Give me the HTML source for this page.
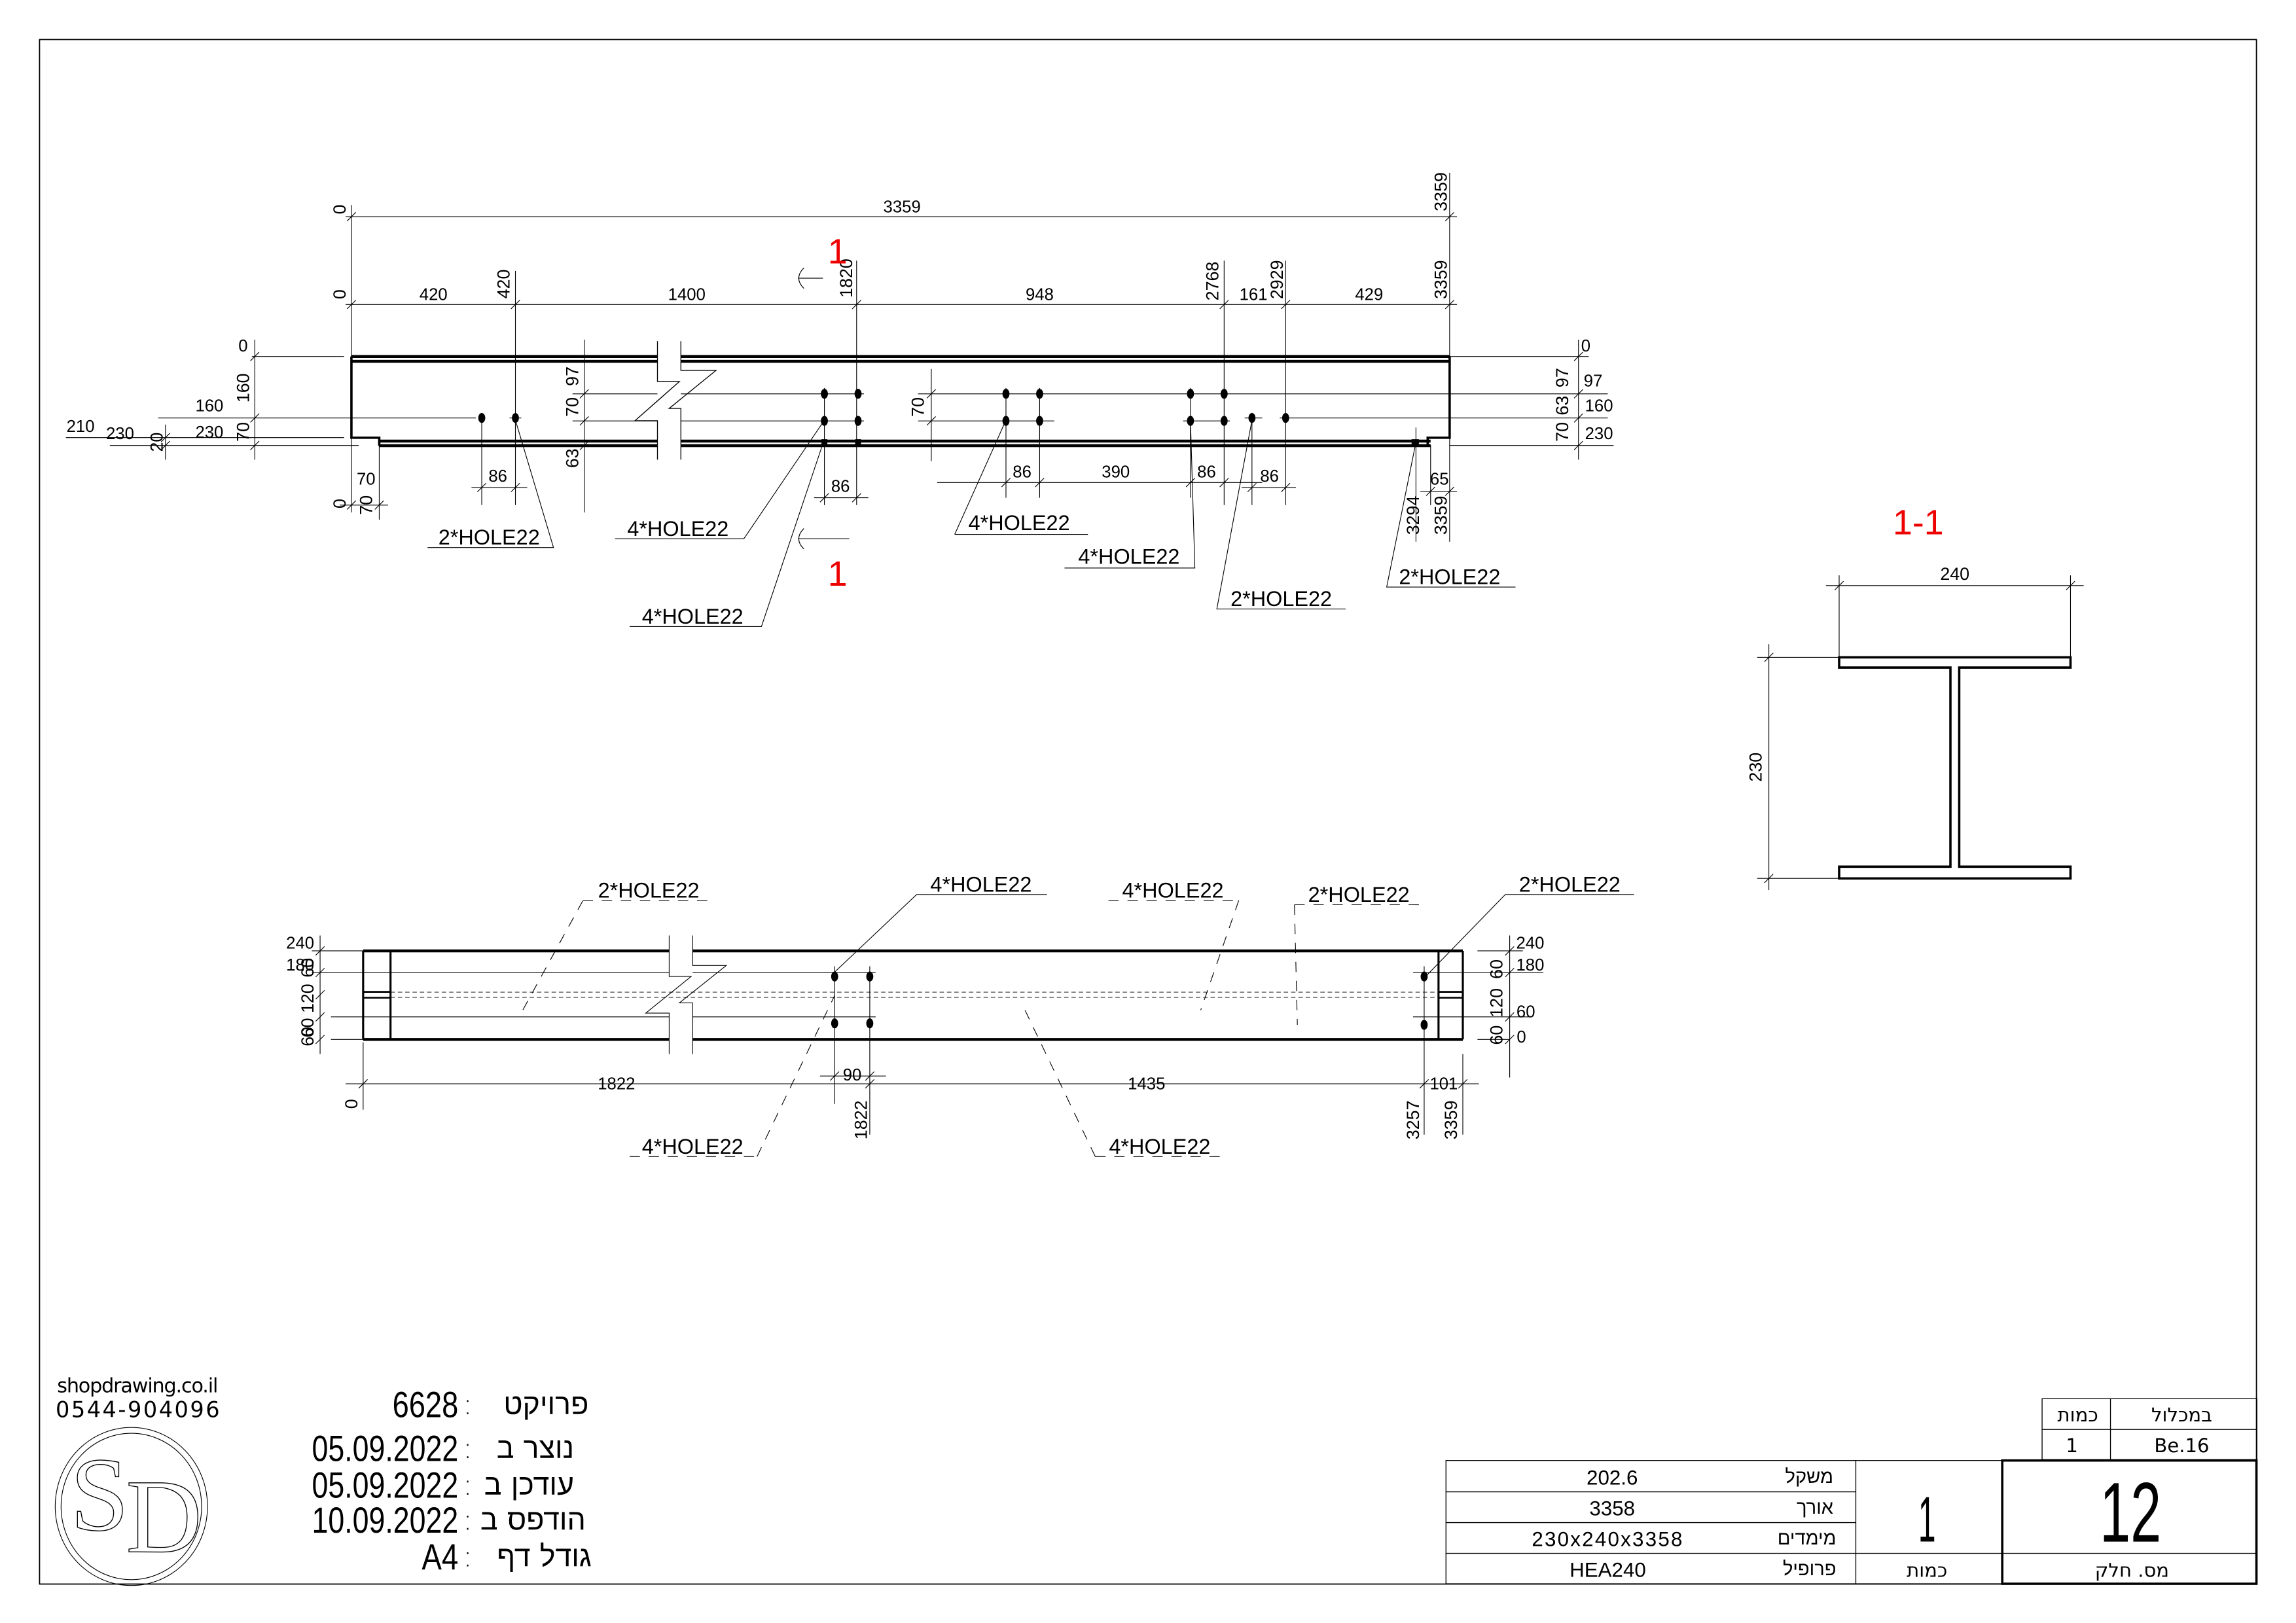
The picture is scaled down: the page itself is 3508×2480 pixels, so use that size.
<!DOCTYPE html>
<html><head><meta charset="utf-8"><style>html,body{margin:0;padding:0;background:#fff}svg{display:block}</style></head>
<body>
<svg xmlns="http://www.w3.org/2000/svg" width="3508" height="2480" viewBox="0 0 1568 1108.6" preserveAspectRatio="none">
<defs><path id="t" d="M-3,3 L3,-3" stroke="#000" stroke-width="0.5"/></defs>
<rect x="0" y="0" width="1568" height="1108.6" fill="#fff"/>
<rect x="27" y="27" width="1514" height="1055" fill="none" stroke="#000" stroke-width="0.8"/>

<g font-family="Liberation Sans Narrow, Liberation Sans, sans-serif" font-size="12" fill="#000">
<!-- ===== TOP VIEW ===== -->
<g stroke="#000" stroke-width="0.5" fill="none">
<line x1="236" y1="148" x2="995" y2="148"/>
<line x1="236" y1="208" x2="995" y2="208"/>
<line x1="240" y1="140" x2="240" y2="246"/>
<line x1="990" y1="118" x2="990" y2="370"/>
<line x1="352" y1="185" x2="352" y2="345"/>
<line x1="585" y1="178" x2="585" y2="345"/>
<line x1="836" y1="178" x2="836" y2="345"/>
<line x1="878" y1="178" x2="878" y2="345"/>
<line x1="329" y1="282" x2="329" y2="345"/>
<line x1="563" y1="265" x2="563" y2="345"/>
<line x1="687" y1="265" x2="687" y2="340"/>
<line x1="710" y1="265" x2="710" y2="340"/>
<line x1="813" y1="265" x2="813" y2="340"/>
<line x1="855" y1="282" x2="855" y2="345"/>
<line x1="967" y1="292" x2="967" y2="370"/>
<line x1="977" y1="304" x2="977" y2="345"/>
<line x1="259" y1="304" x2="259" y2="355"/>
<line x1="240" y1="299" x2="240" y2="350"/>
<line x1="391" y1="269" x2="449" y2="269"/><line x1="465" y1="269" x2="590" y2="269"/>
<line x1="627" y1="269" x2="1098" y2="269"/>
<line x1="391" y1="287.5" x2="449" y2="287.5"/><line x1="465" y1="287.5" x2="590" y2="287.5"/>
<line x1="627" y1="287.5" x2="720" y2="287.5"/><line x1="808" y1="287.5" x2="840" y2="287.5"/>
<line x1="108" y1="285.5" x2="325" y2="285.5"/><line x1="348" y1="285.5" x2="356" y2="285.5"/>
<line x1="850" y1="285.5" x2="862" y2="285.5"/><line x1="874" y1="285.5" x2="1098" y2="285.5"/>
<line x1="172" y1="243.5" x2="235" y2="243.5"/>
<line x1="45" y1="298.9" x2="235" y2="298.9"/>
<line x1="75" y1="304.3" x2="245" y2="304.3"/>
<line x1="174" y1="232" x2="174" y2="314"/>
<line x1="113" y1="290" x2="113" y2="314"/>
<line x1="399" y1="232" x2="399" y2="350"/>
<line x1="636" y1="252" x2="636" y2="315"/>
<line x1="990" y1="243.5" x2="1085" y2="243.5"/>
<line x1="990" y1="304.3" x2="1102" y2="304.3"/>
<line x1="1078" y1="232" x2="1078" y2="314"/>
<line x1="232" y1="345" x2="265" y2="345"/>
<line x1="322" y1="333" x2="360" y2="333"/>
<line x1="556" y1="340" x2="593" y2="340"/>
<line x1="640" y1="329.6" x2="862" y2="329.6"/>
<line x1="848" y1="333" x2="885" y2="333"/>
<line x1="970" y1="335.6" x2="995" y2="335.6"/>
<polyline points="292,374 378,374 352,287"/>
<polyline points="420,368 508,368 563,287"/>
<polyline points="430,428 520,428 563,300"/>
<polyline points="652,365 743,365"/><line x1="652" y1="365" x2="687" y2="287"/>
<polyline points="727,388 816,388 813,287"/>
<polyline points="919,416 831,416 855,287"/>
<polyline points="1035,401 947,401 967,302"/>
<line x1="545" y1="190" x2="562" y2="190"/>
<path d="M549,183 Q542,190 549,197"/>
<line x1="545" y1="368" x2="580" y2="368"/>
<path d="M549,361 Q542,368 549,375"/>
</g>
<g>
<use href="#t" x="240" y="148"/><use href="#t" x="990" y="148"/>
<use href="#t" x="240" y="208"/><use href="#t" x="352" y="208"/><use href="#t" x="585" y="208"/><use href="#t" x="836" y="208"/><use href="#t" x="878" y="208"/><use href="#t" x="990" y="208"/>
<use href="#t" x="174" y="243.5"/><use href="#t" x="174" y="285.5"/><use href="#t" x="174" y="304.3"/>
<use href="#t" x="113" y="298.9"/><use href="#t" x="113" y="304.3"/>
<use href="#t" x="399" y="269"/><use href="#t" x="399" y="287.5"/><use href="#t" x="399" y="304.3"/>
<use href="#t" x="636" y="269"/><use href="#t" x="636" y="287.5"/>
<use href="#t" x="1078" y="243.5"/><use href="#t" x="1078" y="269"/><use href="#t" x="1078" y="285.5"/><use href="#t" x="1078" y="304.3"/>
<use href="#t" x="240" y="345"/><use href="#t" x="259" y="345"/>
<use href="#t" x="329" y="333"/><use href="#t" x="352" y="333"/>
<use href="#t" x="563" y="340"/><use href="#t" x="585" y="340"/>
<use href="#t" x="687" y="329.6"/><use href="#t" x="710" y="329.6"/><use href="#t" x="813" y="329.6"/><use href="#t" x="836" y="329.6"/>
<use href="#t" x="855" y="333"/><use href="#t" x="878" y="333"/>
<use href="#t" x="977" y="335.6"/><use href="#t" x="990" y="335.6"/>
</g>
<g stroke="#000" stroke-width="2" fill="none">
<line x1="240" y1="243.5" x2="449" y2="243.5"/><line x1="465" y1="243.5" x2="990" y2="243.5"/>
<line x1="240" y1="246.8" x2="449" y2="246.8"/><line x1="465" y1="246.8" x2="990" y2="246.8"/>
<line x1="259" y1="301.3" x2="449" y2="301.3"/><line x1="465" y1="301.3" x2="977" y2="301.3"/>
<line x1="259" y1="304.4" x2="449" y2="304.4"/><line x1="465" y1="304.4" x2="977" y2="304.4"/>
<polyline points="240,243.5 240,299 259,299 259,304.4" stroke-width="1.6"/>
<polyline points="990,243.5 990,299 975,299 975,304.4" stroke-width="1.6"/>
</g>
<g stroke="#000" stroke-width="0.6" fill="none">
<polyline points="465,233 465,253 489,253 457,279 465,279 465,314"/>
<polyline points="449,233 449,260.6 464,260.6 433.6,287.4 449,287.4 449,314"/>
</g>
<g fill="#000">
<ellipse cx="329" cy="285.5" rx="2.4" ry="3.4"/><ellipse cx="352" cy="285.5" rx="2.4" ry="3.4"/>
<ellipse cx="563" cy="269" rx="2.4" ry="3.4"/><ellipse cx="586" cy="269" rx="2.4" ry="3.4"/>
<ellipse cx="563" cy="287.5" rx="2.4" ry="3.4"/><ellipse cx="586" cy="287.5" rx="2.4" ry="3.4"/>
<ellipse cx="687" cy="269" rx="2.4" ry="3.4"/><ellipse cx="710" cy="269" rx="2.4" ry="3.4"/>
<ellipse cx="687" cy="287.5" rx="2.4" ry="3.4"/><ellipse cx="710" cy="287.5" rx="2.4" ry="3.4"/>
<ellipse cx="813" cy="269" rx="2.4" ry="3.4"/><ellipse cx="836" cy="269" rx="2.4" ry="3.4"/>
<ellipse cx="813" cy="287.5" rx="2.4" ry="3.4"/><ellipse cx="836" cy="287.5" rx="2.4" ry="3.4"/>
<ellipse cx="855" cy="285.5" rx="2.4" ry="3.4"/><ellipse cx="878" cy="285.5" rx="2.4" ry="3.4"/>
<rect x="561" y="300" width="4" height="5"/><rect x="584" y="300" width="4" height="5"/><rect x="964" y="300" width="5" height="5"/>
</g>
<g text-anchor="middle" font-size="11.5">
<text x="616" y="145">3359</text>
<text x="296" y="205">420</text><text x="469" y="205">1400</text><text x="710" y="205">948</text>
<text x="856" y="205">161</text><text x="935" y="205">429</text>
<text x="166" y="240">0</text><text x="143" y="281">160</text><text x="143" y="299">230</text>
<text x="55" y="295">210</text><text x="82" y="300">230</text>
<text x="1083" y="240">0</text><text x="1088" y="264">97</text><text x="1092" y="281">160</text><text x="1092" y="300">230</text>
<text x="250" y="331">70</text><text x="340" y="329">86</text><text x="574" y="336">86</text>
<text x="698" y="326">86</text><text x="762" y="326">390</text><text x="824" y="326">86</text><text x="867" y="329">86</text>
<text x="983" y="331">65</text>
</g>
<g font-family="Liberation Sans, sans-serif" font-size="12" text-anchor="middle">
<text transform="translate(236,143) rotate(-90)">0</text>
<text transform="translate(236,201) rotate(-90)">0</text>
<text transform="translate(988,131) rotate(-90)">3359</text>
<text transform="translate(988,191) rotate(-90)">3359</text>
<text transform="translate(348,194) rotate(-90)">420</text>
<text transform="translate(582,190) rotate(-90)">1820</text>
<text transform="translate(832,192) rotate(-90)">2768</text>
<text transform="translate(876,191) rotate(-90)">2929</text>
<text transform="translate(170,265) rotate(-90)">160</text>
<text transform="translate(170,295) rotate(-90)">70</text>
<text transform="translate(111,302) rotate(-90)">20</text>
<text transform="translate(395,257) rotate(-90)">97</text>
<text transform="translate(395,278) rotate(-90)">70</text>
<text transform="translate(395,313) rotate(-90)">63</text>
<text transform="translate(631,278) rotate(-90)">70</text>
<text transform="translate(1071,258) rotate(-90)">97</text>
<text transform="translate(1071,277) rotate(-90)">63</text>
<text transform="translate(1071,295) rotate(-90)">70</text>
<text transform="translate(236,344) rotate(-90)">0</text>
<text transform="translate(254,345) rotate(-90)">70</text>
<text transform="translate(969,352) rotate(-90)">3294</text>
<text transform="translate(988,352) rotate(-90)">3359</text>
</g>
<g font-family="Liberation Sans, sans-serif" font-size="14.5" text-anchor="middle">
<text x="334" y="372">2*HOLE22</text>
<text x="463" y="366">4*HOLE22</text>
<text x="473" y="426">4*HOLE22</text>
<text x="696" y="362">4*HOLE22</text>
<text x="771" y="385">4*HOLE22</text>
<text x="875" y="414">2*HOLE22</text>
<text x="990" y="399">2*HOLE22</text>
</g>
<g fill="#e00" font-family="Liberation Sans, sans-serif" font-size="24" text-anchor="middle">
<text x="572" y="180">1</text><text x="572" y="400">1</text>
<text x="1310" y="365">1-1</text>
</g>

<!-- ===== SECTION 1-1 ===== -->
<g stroke="#000" stroke-width="0.5" fill="none">
<line x1="1247" y1="400" x2="1423" y2="400"/>
<line x1="1256" y1="393" x2="1256" y2="449"/><line x1="1414" y1="393" x2="1414" y2="449"/>
<line x1="1208" y1="440" x2="1208" y2="608"/>
<line x1="1200" y1="449" x2="1256" y2="449"/><line x1="1200" y1="600" x2="1256" y2="600"/>
</g>
<use href="#t" x="1256" y="400"/><use href="#t" x="1414" y="400"/><use href="#t" x="1208" y="449"/><use href="#t" x="1208" y="600"/>
<g stroke="#000" stroke-width="1.6" fill="none">
<path d="M1256,449 H1414 V456 H1338 V592 H1414 V600 H1256 V592 H1332 V456 H1256 Z"/>
</g>
<text x="1335" y="396" text-anchor="middle">240</text>
<text transform="translate(1203,524) rotate(-90)" text-anchor="middle" font-family="Liberation Sans, sans-serif">230</text>

<!-- ===== BOTTOM VIEW ===== -->
<g stroke="#000" stroke-width="2" fill="none">
<line x1="248" y1="649.5" x2="457" y2="649.5"/><line x1="473" y1="649.5" x2="999" y2="649.5"/>
<line x1="248" y1="710" x2="457" y2="710"/><line x1="473" y1="710" x2="999" y2="710"/>
<line x1="248" y1="649.5" x2="248" y2="710" stroke-width="1.4"/>
<line x1="266.7" y1="649.5" x2="266.7" y2="710" stroke-width="1.4"/>
<line x1="999" y1="649.5" x2="999" y2="710" stroke-width="1.4"/>
<line x1="982.4" y1="649.5" x2="982.4" y2="710" stroke-width="1.4"/>
<line x1="248" y1="677.5" x2="266.7" y2="677.5" stroke-width="1.2"/><line x1="248" y1="681.5" x2="266.7" y2="681.5" stroke-width="1.2"/>
<line x1="982.4" y1="677.5" x2="999" y2="677.5" stroke-width="1.2"/><line x1="982.4" y1="681.5" x2="999" y2="681.5" stroke-width="1.2"/>
</g>
<g stroke="#000" stroke-width="0.5" fill="none">
<polyline points="473,639 473,659.5 496,659.5 464,685 473,685 473,720"/>
<polyline points="457,639 457,667 472,667 441,692 457,692 457,720"/>
<line x1="266.7" y1="677.7" x2="982" y2="677.7" stroke-dasharray="3,2" stroke-width="0.4"/>
<line x1="266.7" y1="681.3" x2="982" y2="681.3" stroke-dasharray="3,2" stroke-width="0.4"/>
<line x1="213" y1="664.3" x2="457" y2="664.3"/><line x1="473" y1="664.3" x2="598" y2="664.3"/>
<line x1="226" y1="694.6" x2="457" y2="694.6"/><line x1="473" y1="694.6" x2="598" y2="694.6"/>
<line x1="965" y1="664.3" x2="1054" y2="664.3"/><line x1="965" y1="694.6" x2="1046" y2="694.6"/>
<line x1="213" y1="649.5" x2="248" y2="649.5"/><line x1="1009" y1="649.5" x2="1040" y2="649.5"/>
<line x1="226" y1="710" x2="248" y2="710"/><line x1="1009" y1="710" x2="1031" y2="710"/>
<line x1="218.6" y1="639" x2="218.6" y2="720"/><line x1="1031" y1="639" x2="1031" y2="736"/>
<line x1="236" y1="740.3" x2="1010" y2="740.3"/>
<line x1="248" y1="712" x2="248" y2="758"/>
<line x1="570" y1="660" x2="570" y2="754"/><line x1="594" y1="660" x2="594" y2="775"/>
<line x1="972.6" y1="660" x2="972.6" y2="775"/><line x1="999" y1="720" x2="999" y2="775"/>
<line x1="560" y1="735" x2="605" y2="735"/>
<polyline points="626,611 715,611"/><line x1="626" y1="611" x2="570" y2="664"/>
<polyline points="1028,611 1116,611"/><line x1="1028" y1="611" x2="972.6" y2="668"/>
<g stroke-dasharray="7,6">
<line x1="398" y1="615.3" x2="488" y2="615.3"/><line x1="398" y1="615.3" x2="357" y2="690"/>
<line x1="757" y1="615" x2="846" y2="615"/><line x1="846" y1="615" x2="820" y2="690"/>
<line x1="884" y1="618" x2="973" y2="618"/><line x1="884" y1="618" x2="886" y2="700"/>
<line x1="430" y1="790" x2="515" y2="790"/><line x1="517" y1="790" x2="570" y2="680"/>
<line x1="748" y1="790" x2="837" y2="790"/><line x1="748" y1="790" x2="700" y2="690"/>
</g>
</g>
<g>
<use href="#t" x="218.6" y="649.5"/><use href="#t" x="218.6" y="664.3"/><use href="#t" x="218.6" y="679.5"/><use href="#t" x="218.6" y="694.6"/><use href="#t" x="218.6" y="710"/>
<use href="#t" x="1031" y="649.5"/><use href="#t" x="1031" y="664.3"/><use href="#t" x="1031" y="694.6"/><use href="#t" x="1031" y="710"/>
<use href="#t" x="248" y="740.3"/><use href="#t" x="594" y="740.3"/><use href="#t" x="972.6" y="740.3"/><use href="#t" x="999" y="740.3"/>
<use href="#t" x="570" y="735"/><use href="#t" x="594" y="735"/>
</g>
<g fill="#000">
<ellipse cx="570" cy="667" rx="2.4" ry="3.4"/><ellipse cx="594" cy="667" rx="2.4" ry="3.4"/>
<ellipse cx="570" cy="699" rx="2.4" ry="3.4"/><ellipse cx="594" cy="699" rx="2.4" ry="3.4"/>
<ellipse cx="972.6" cy="667" rx="2.4" ry="3.4"/><ellipse cx="972.6" cy="700" rx="2.4" ry="3.4"/>
</g>
<g text-anchor="middle" font-size="11.5">
<text x="205" y="648">240</text><text x="205" y="663">180</text>
<text x="1045" y="648">240</text><text x="1045" y="663">180</text><text x="1042" y="695">60</text><text x="1039" y="712">0</text>
<text x="421" y="744">1822</text><text x="783" y="744">1435</text><text x="986" y="744">101</text><text x="582" y="738">90</text>
</g>
<g font-family="Liberation Sans, sans-serif" font-size="12" text-anchor="middle">
<text transform="translate(214,661) rotate(-90)">60</text>
<text transform="translate(214,682) rotate(-90)">120</text>
<text transform="translate(214,702) rotate(-90)">60</text>
<text transform="translate(214,708) rotate(-90)">60</text>
<text transform="translate(1026,662) rotate(-90)">60</text>
<text transform="translate(1026,685) rotate(-90)">120</text>
<text transform="translate(1026,707) rotate(-90)">60</text>
<text transform="translate(244,754) rotate(-90)">0</text>
<text transform="translate(592,765) rotate(-90)">1822</text>
<text transform="translate(969,765) rotate(-90)">3257</text>
<text transform="translate(995,765) rotate(-90)">3359</text>
</g>
<g font-family="Liberation Sans, sans-serif" font-size="14.5" text-anchor="middle">
<text x="443" y="613">2*HOLE22</text>
<text x="670" y="609">4*HOLE22</text>
<text x="801" y="613">4*HOLE22</text>
<text x="928" y="616">2*HOLE22</text>
<text x="1072" y="609">2*HOLE22</text>
<text x="473" y="788">4*HOLE22</text>
<text x="792" y="788">4*HOLE22</text>
</g>
</g>

<!-- ===== TITLE BLOCK ===== -->
<g stroke="#000" stroke-width="0.6" fill="none">
<rect x="1394.6" y="955.4" width="146.7" height="41.6"/>
<line x1="1441.3" y1="955.4" x2="1441.3" y2="997"/><line x1="1394.6" y1="976.4" x2="1541.3" y2="976.4"/>
<rect x="987.5" y="997.6" width="380" height="84.2"/>
<line x1="987.5" y1="1019" x2="1267.4" y2="1019"/><line x1="987.5" y1="1040" x2="1267.4" y2="1040"/><line x1="987.5" y1="1061" x2="1367.4" y2="1061"/>
<line x1="1267.4" y1="997.6" x2="1267.4" y2="1081.8"/>
<line x1="1367.4" y1="1061" x2="1541" y2="1061"/>
<rect x="1367.4" y="997.6" width="173.6" height="84.2" stroke-width="1.6"/>
</g>
<g font-family="Liberation Sans, sans-serif" fill="#000">
<g font-size="14" text-anchor="middle">
<text x="1101" y="1014">202.6</text><text x="1101" y="1035">3358</text>
<text x="1098" y="1056" letter-spacing="1">230x240x3358</text><text x="1098" y="1077">HEA240</text>
</g>
<g font-size="13" text-anchor="end" font-family="DejaVu Sans, Liberation Sans, sans-serif" font-weight="200">
<text x="1252" y="1013">משקל</text><text x="1252" y="1034">אורך</text><text x="1254" y="1055">מימדים</text><text x="1254" y="1076">פרופיל</text>
</g>
<g font-size="13" text-anchor="middle" font-family="DejaVu Sans, Liberation Sans, sans-serif">
<text x="1316" y="1077">כמות</text><text x="1456" y="1077">מס. חלק</text>
<text x="1419" y="971">כמות</text><text x="1490" y="971">במכלול</text>
<text x="1415" y="992">1</text><text x="1490" y="992">Be.16</text>
</g>
<text x="1310" y="1053" font-size="44" textLength="12" lengthAdjust="spacingAndGlyphs">1</text>
<text x="1434" y="1053" font-size="58" textLength="42" lengthAdjust="spacingAndGlyphs">12</text>
</g>

<!-- ===== LEFT INFO ===== -->
<g fill="#000" font-family="DejaVu Sans, Liberation Sans, sans-serif">
<text x="39" y="951" font-size="13.5" textLength="110">shopdrawing.co.il</text>
<text x="38" y="968" font-size="15" textLength="112">0544-904096</text>
</g>
<g fill="none" stroke="#000" stroke-width="0.5">
<ellipse cx="89.7" cy="1029" rx="52" ry="54"/>
<ellipse cx="89.7" cy="1029" rx="48" ry="50"/>
</g>
<g fill="none" stroke="#000" stroke-width="0.6" font-family="Liberation Serif, serif" font-size="72">
<text x="48" y="1045">S</text>
<text x="86" y="1060">D</text>
</g>
<g fill="#000" font-family="Liberation Sans, sans-serif" font-size="25" lengthAdjust="spacingAndGlyphs">
<text x="268" y="968" textLength="45" lengthAdjust="spacingAndGlyphs">6628</text>
<text x="213" y="998" textLength="100" lengthAdjust="spacingAndGlyphs">05.09.2022</text>
<text x="213" y="1023" textLength="100" lengthAdjust="spacingAndGlyphs">05.09.2022</text>
<text x="213" y="1047" textLength="100" lengthAdjust="spacingAndGlyphs">10.09.2022</text>
<text x="288" y="1072" textLength="25" lengthAdjust="spacingAndGlyphs">A4</text>
</g>
<g fill="#000" font-family="DejaVu Sans, Liberation Sans, sans-serif" font-size="20" font-weight="200">
<text x="316" y="966">:</text><text x="316" y="996">:</text><text x="316" y="1021">:</text><text x="316" y="1045">:</text><text x="316" y="1070">:</text>
<text x="402" y="966" text-anchor="end">פרויקט</text>
<text x="392" y="996" text-anchor="end">נוצר ב</text>
<text x="392" y="1021" text-anchor="end">עודכן ב</text>
<text x="400" y="1045" text-anchor="end">הודפס ב</text>
<text x="404" y="1070" text-anchor="end">גודל דף</text>
</g>
</svg>
</body></html>
